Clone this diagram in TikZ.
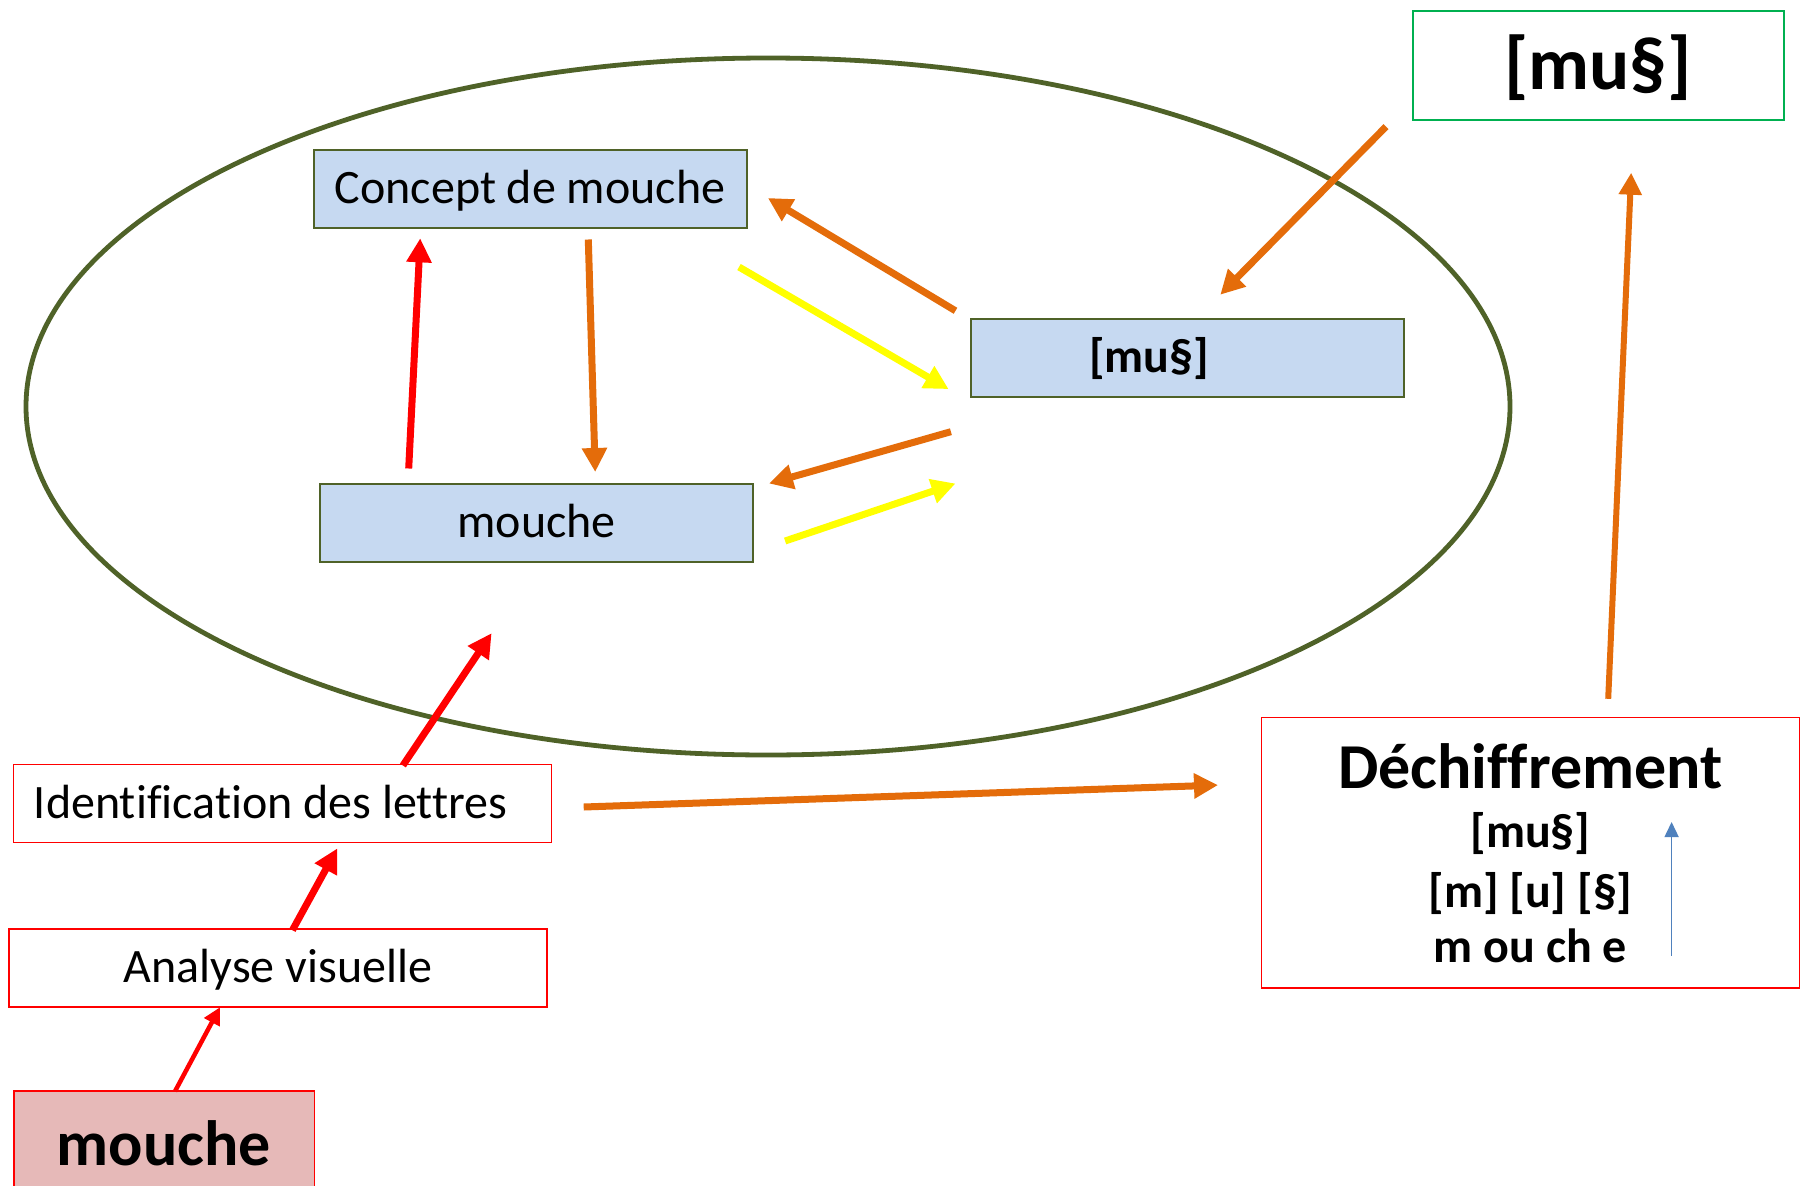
\documentclass[tikz,border=0pt]{standalone}
\usepackage{fontspec}
\setmainfont[Ligatures={NoCommon}]{Carlito}
\usetikzlibrary{arrows.meta}
\definecolor{ellgreen}{HTML}{4F6228}
\definecolor{boxblue}{HTML}{C6D9F1}
\definecolor{arrorange}{HTML}{E46C0A}
\definecolor{arryellow}{HTML}{FFFF00}
\definecolor{arrred}{HTML}{FF0000}
\definecolor{topgreen}{HTML}{00B050}
\definecolor{pinkfill}{HTML}{E6B9B8}
\definecolor{arrblue}{HTML}{4F81BD}
\begin{document}
\begin{tikzpicture}[x=1pt,y=-1pt,
  innerbox/.style={draw=ellgreen, fill=boxblue, line width=2pt, minimum width=433pt, minimum height=78pt, inner sep=0pt, font=\fontsize{48}{57}\selectfont, text height=29.5pt, text depth=0pt},
  redbox/.style={draw=arrred, line width=1.5pt, fill=white, inner sep=0pt, minimum width=538pt, minimum height=78pt, font=\fontsize{48}{57}\selectfont, text height=29.5pt, text depth=0pt},
  dechline/.style={anchor=base, inner sep=0pt, font=\fontsize{48}{57}\selectfont\bfseries},
  thickarrow/.style={line width=7pt, -{Triangle[length=24pt,width=24pt]}},
  thinarrow/.style={line width=4.5pt, -{Triangle[length=17pt,width=17pt]}}
]
\clip (0,0) rectangle (1805,1186);
\fill[white] (0,0) rectangle (1805,1186);

% ellipse
\draw[ellgreen, line width=4.8pt] (768,406.5) ellipse [x radius=742, y radius=348.5];

% inner boxes
\node[innerbox] (concept) at (530,189) {Concept de mouche};
\node[innerbox] (muinner) at (1187,358) {\textbf{[mu§]}\hspace*{76pt}};
\node[innerbox] (mouchein) at (536.5,523) {mouche};

% top right box
\node[draw=topgreen, line width=2pt, fill=white, inner sep=0pt, minimum width=371pt, minimum height=109pt, font=\fontsize{75}{90}\selectfont\bfseries, text height=49pt, text depth=0pt] (mutop) at (1598,65) {[mu§]};

% left column
\node[redbox] (ident) at (282.6,803.5) {Identification des lettres\hspace*{24pt}};
\node[redbox] (analyse) at (278,968) {Analyse visuelle};
\node[draw=arrred, line width=1.5pt, fill=pinkfill, inner sep=0pt, minimum width=300.5pt, minimum height=110pt, font=\fontsize{64}{77}\selectfont\bfseries, text height=39pt, text depth=0pt] (moucheb) at (164,1146) {mouche};

% dechiffrement box
\node[draw=arrred, line width=1.5pt, fill=white, inner sep=0pt, minimum width=538pt, minimum height=270.5pt] (dechbox) at (1530.5,852.5) {};
\node[dechline, font=\fontsize{64}{77}\selectfont\bfseries] (dechtitle) at (1530.5,788) {Déchiffrement};
\node[dechline] (dechl1) at (1530.5,847) {[mu§]};
\node[dechline] (dechl2) at (1530.5,907) {[m] [u] [§]};
\node[dechline] (dechl3) at (1530.5,962) {m ou ch e};

% arrow end coordinates
\coordinate (a1s) at (408.7,468.5);  \coordinate (a1e) at (420.2,238.3);
\coordinate (a2s) at (588.3,239.5);  \coordinate (a2e) at (595.2,472);
\coordinate (a3s) at (955.5,310.8);  \coordinate (a3e) at (767.9,198);
\coordinate (a4s) at (739,267);      \coordinate (a4e) at (948.6,389.1);
\coordinate (a5s) at (950.9,431.7);  \coordinate (a5e) at (769,483.5);
\coordinate (a6s) at (785.1,541);    \coordinate (a6e) at (955.5,483.5);
\coordinate (a7s) at (1386,126.6);   \coordinate (a7e) at (1220.3,294.7);
\coordinate (a8s) at (402.9,765.5);  \coordinate (a8e) at (491.6,633.2);
\coordinate (a9s) at (292.4,930.2);  \coordinate (a9e) at (337.3,848.4);
\coordinate (a10s) at (175,1091.3);  \coordinate (a10e) at (219.9,1007.3);
\coordinate (a11s) at (583.7,807);   \coordinate (a11e) at (1218,785.1);
\coordinate (a12s) at (1608.2,698.8); \coordinate (a12e) at (1631.2,172.7);
\coordinate (bls) at (1671.6,955.5); \coordinate (ble) at (1671.6,822);

% arrows
\draw[thickarrow, arrred] (a1s) -- (a1e);
\draw[thickarrow, arrorange] (a2s) -- (a2e);
\draw[thickarrow, arrorange] (a3s) -- (a3e);
\draw[thickarrow, arryellow] (a4s) -- (a4e);
\draw[thickarrow, arrorange] (a5s) -- (a5e);
\draw[thickarrow, arryellow] (a6s) -- (a6e);
\draw[thickarrow, arrorange] (a7s) -- (a7e);
\draw[thickarrow, arrred] (a8s) -- (a8e);
\draw[thickarrow, arrred] (a9s) -- (a9e);
\draw[thinarrow, arrred] (a10s) -- (a10e);
\draw[thickarrow, arrorange] (a11s) -- (a11e);
\draw[line width=6pt, arrorange, -{Triangle[length=22pt,width=22pt]}] (a12s) -- (a12e);
\draw[line width=1.5pt, arrblue, -{Triangle[length=15pt,width=14pt]}] (bls) -- (ble);
\end{tikzpicture}
\end{document}
